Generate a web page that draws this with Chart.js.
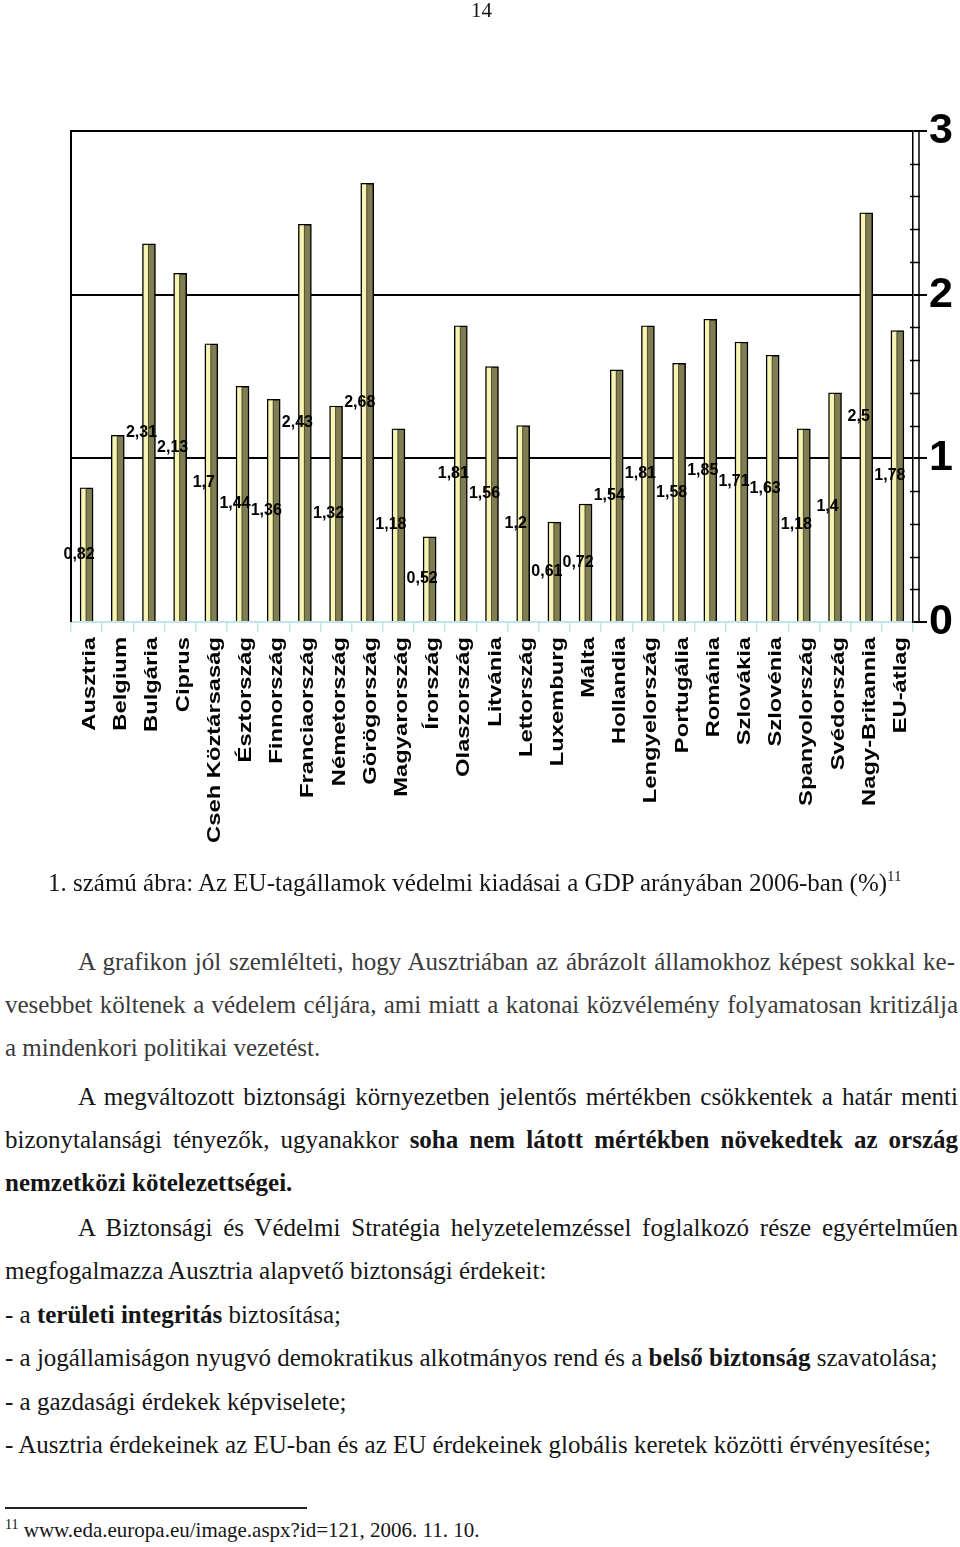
<!DOCTYPE html>
<html lang="hu">
<head>
<meta charset="utf-8">
<title>Védelmi kiadások a GDP arányában</title>
<script src="https://cdn.jsdelivr.net/npm/chart.js@4.4.1/dist/chart.umd.min.js"></script>
<style>
  body {
    margin: 0;
    width: 960px;
    height: 1547px;
    position: relative;
    overflow: hidden;
    background: #fff;
    color: #151515;
    font-family: "Liberation Serif", "Times New Roman", serif;
  }
  #chart { position: absolute; left: 0; top: 0; }
  .ln {
    position: absolute;
    font-size: 25px;
    line-height: 25px;
    white-space: nowrap;
  }
  .j { text-align: justify; text-align-last: justify; }
  .gray { color: #3a3a3a; }
  sup { font-size: 15px; line-height: 0; vertical-align: 10px; }
  .foot { font-size: 21px; line-height: 21px; }
  .foot sup { font-size: 14px; vertical-align: 8px; }
  .rule { position: absolute; left: 5px; top: 1507px; width: 302px; height: 1.5px; background: #222; }
</style>
</head>
<body>
<canvas id="chart" width="960" height="870"></canvas>

<div class="ln foot" style="left:471px; top:0px;">14</div>

<div class="ln" style="left:48px; top:870px;">1. számú ábra: Az EU-tagállamok védelmi kiadásai a GDP arányában 2006-ban (%)<sup>11</sup></div>

<div class="ln j gray" style="left:78px; width:877px; top:949px;">A grafikon jól szemlélteti, hogy Ausztriában az ábrázolt államokhoz képest sokkal ke-</div>
<div class="ln j gray" style="left:5px; width:953px; top:992px;">vesebbet költenek a védelem céljára, ami miatt a katonai közvélemény folyamatosan kritizálja</div>
<div class="ln gray" style="left:5px; top:1035px;">a mindenkori politikai vezetést.</div>

<div class="ln j" style="left:78px; width:880px; top:1084px;">A megváltozott biztonsági környezetben jelentős mértékben csökkentek a határ menti</div>
<div class="ln j" style="left:5px; width:953px; top:1127px;">bizonytalansági tényezők, ugyanakkor <b>soha nem látott mértékben növekedtek az ország</b></div>
<div class="ln" style="left:5px; top:1170px;"><b>nemzetközi kötelezettségei.</b></div>

<div class="ln j" style="left:78px; width:880px; top:1215px;">A Biztonsági és Védelmi Stratégia helyzetelemzéssel foglalkozó része egyértelműen</div>
<div class="ln" style="left:5px; top:1258px;">megfogalmazza Ausztria alapvető biztonsági érdekeit:</div>
<div class="ln" style="left:5px; top:1302px;">- a <b>területi integritás</b> biztosítása;</div>
<div class="ln" style="left:5px; top:1345px;">- a jogállamiságon nyugvó demokratikus alkotmányos rend és a <b>belső biztonság</b> szavatolása;</div>
<div class="ln" style="left:5px; top:1389px;">- a gazdasági érdekek képviselete;</div>
<div class="ln" style="left:5px; top:1432px;">- Ausztria érdekeinek az EU-ban és az EU érdekeinek globális keretek közötti érvényesítése;</div>

<div class="rule"></div>
<div class="ln foot" style="left:5px; top:1520px;"><sup>11</sup> www.eda.europa.eu/image.aspx?id=121, 2006. 11. 10.</div>

<script>
// categories and values (% of GDP, 2006)
const countries = [
  "Ausztria", "Belgium", "Bulgária", "Ciprus", "Cseh Köztársaság",
  "Észtország", "Finnország", "Franciaország", "Németország", "Görögország",
  "Magyarország", "Írország", "Olaszország", "Litvánia", "Lettország",
  "Luxemburg", "Málta", "Hollandia", "Lengyelország", "Portugália",
  "Románia", "Szlovákia", "Szlovénia", "Spanyolország", "Svédország",
  "Nagy-Britannia", "EU-átlag"
];
const spending = [
  0.82, 1.14, 2.31, 2.13, 1.7,
  1.44, 1.36, 2.43, 1.32, 2.68,
  1.18, 0.52, 1.81, 1.56, 1.2,
  0.61, 0.72, 1.54, 1.81, 1.58,
  1.85, 1.71, 1.63, 1.18, 1.4,
  2.5, 1.78
];
// bars whose value label is not printed in the original
const unlabeled = ["Belgium"];
const yTicks = [0, 1, 2, 3];
const minorStep = 0.2;

const olive = "#817d52";
const stripe = "#f7f3b2";
const cyan = "#c4e4ec";
const sansBold = '"Liberation Sans", Arial, sans-serif';

const decor = {
  id: "decor",
  afterDatasetsDraw(chart) {
    const ctx = chart.ctx;
    const meta = chart.getDatasetMeta(0);
    ctx.save();
    // pale highlight on the left side of every bar
    meta.data.forEach(bar => {
      const p = bar.getProps(["x", "y", "base", "width"], true);
      const left = p.x - p.width / 2;
      ctx.fillStyle = stripe;
      ctx.fillRect(left + 1.2, p.y + 1, 4.6, p.base - p.y - 1);
      ctx.strokeStyle = "#3a3a22";
      ctx.lineWidth = 0.8;
      ctx.beginPath();
      ctx.moveTo(left + 6, p.y + 1);
      ctx.lineTo(left + 6, p.base);
      ctx.stroke();
    });
    // value labels, placed halfway up the bar
    ctx.font = "bold 16px " + sansBold;
    ctx.fillStyle = "#000";
    ctx.textAlign = "center";
    ctx.textBaseline = "middle";
    meta.data.forEach((bar, i) => {
      if (unlabeled.includes(countries[i])) return;
      const p = bar.getProps(["x", "y", "base"], true);
      ctx.fillText(String(spending[i]).replace(".", ","), p.x - 7.5, (p.y + p.base) / 2);
    });
    ctx.restore();
  },
  afterDraw(chart) {
    const ctx = chart.ctx;
    const area = chart.chartArea;
    const xs = chart.scales.x;
    const ys = chart.scales.y;
    ctx.save();
    ctx.strokeStyle = "#000";
    // left frame
    ctx.lineWidth = 2;
    ctx.beginPath();
    ctx.moveTo(area.left, area.top - 1);
    ctx.lineTo(area.left, area.bottom);
    ctx.stroke();
    // second line of the axis wall
    ctx.lineWidth = 1.5;
    ctx.beginPath();
    ctx.moveTo(area.right + 6, area.top);
    ctx.lineTo(area.right + 6, area.bottom);
    ctx.stroke();
    // minor ticks every 0.2
    const steps = Math.round((yTicks[yTicks.length - 1] - yTicks[0]) / minorStep);
    for (let k = 1; k < steps; k++) {
      if (k % 5 === 0) continue;
      const yy = Math.round(ys.getPixelForValue(yTicks[0] + k * minorStep)) + 0.5;
      ctx.beginPath();
      ctx.moveTo(area.right - 3, yy);
      ctx.lineTo(area.right + 7, yy);
      ctx.stroke();
    }
    // category names, rotated
    ctx.fillStyle = "#000";
    ctx.font = "bold 19px " + sansBold;
    ctx.textAlign = "right";
    ctx.textBaseline = "alphabetic";
    countries.forEach((name, i) => {
      ctx.save();
      ctx.translate(xs.getPixelForValue(i) + 8.5, area.bottom + 15);
      ctx.rotate(-Math.PI / 2);
      ctx.scale(1.25, 1);
      ctx.fillText(name, 0, 0);
      ctx.restore();
    });
    ctx.restore();
  }
};

new Chart(document.getElementById("chart"), {
  type: "bar",
  data: {
    labels: countries,
    datasets: [
      {
        data: spending,
        backgroundColor: olive,
        borderColor: "#000",
        borderWidth: 1.5,
        borderSkipped: "bottom",
        barThickness: 13
      }
    ]
  },
  options: {
    responsive: false,
    animation: false,
    layout: { padding: { left: 71, top: 131, right: 0, bottom: 0 } },
    plugins: { legend: { display: false }, tooltip: { enabled: false } },
    scales: {
      x: {
        offset: true,
        ticks: { display: false },
        grid: {
          offset: true,
          drawOnChartArea: false,
          drawTicks: true,
          tickLength: 10,
          color: cyan,
          lineWidth: 1.5
        },
        border: { display: true, color: cyan, width: 2 },
        afterFit: scale => { scale.height = 248; }
      },
      y: {
        position: "right",
        min: yTicks[0],
        max: yTicks[yTicks.length - 1],
        ticks: {
          stepSize: 1,
          padding: 2,
          color: "#000",
          font: { family: sansBold, size: 43, weight: "bold" }
        },
        grid: {
          color: c => (c.tick && c.tick.value === 0 ? "rgba(0,0,0,0)" : "#000"),
          tickColor: "#000",
          lineWidth: 2,
          tickLength: 14
        },
        border: { display: true, color: "#000", width: 1.5 },
        afterFit: scale => { scale.width = 47; }
      }
    }
  },
  plugins: [decor]
});
</script>
</body>
</html>
